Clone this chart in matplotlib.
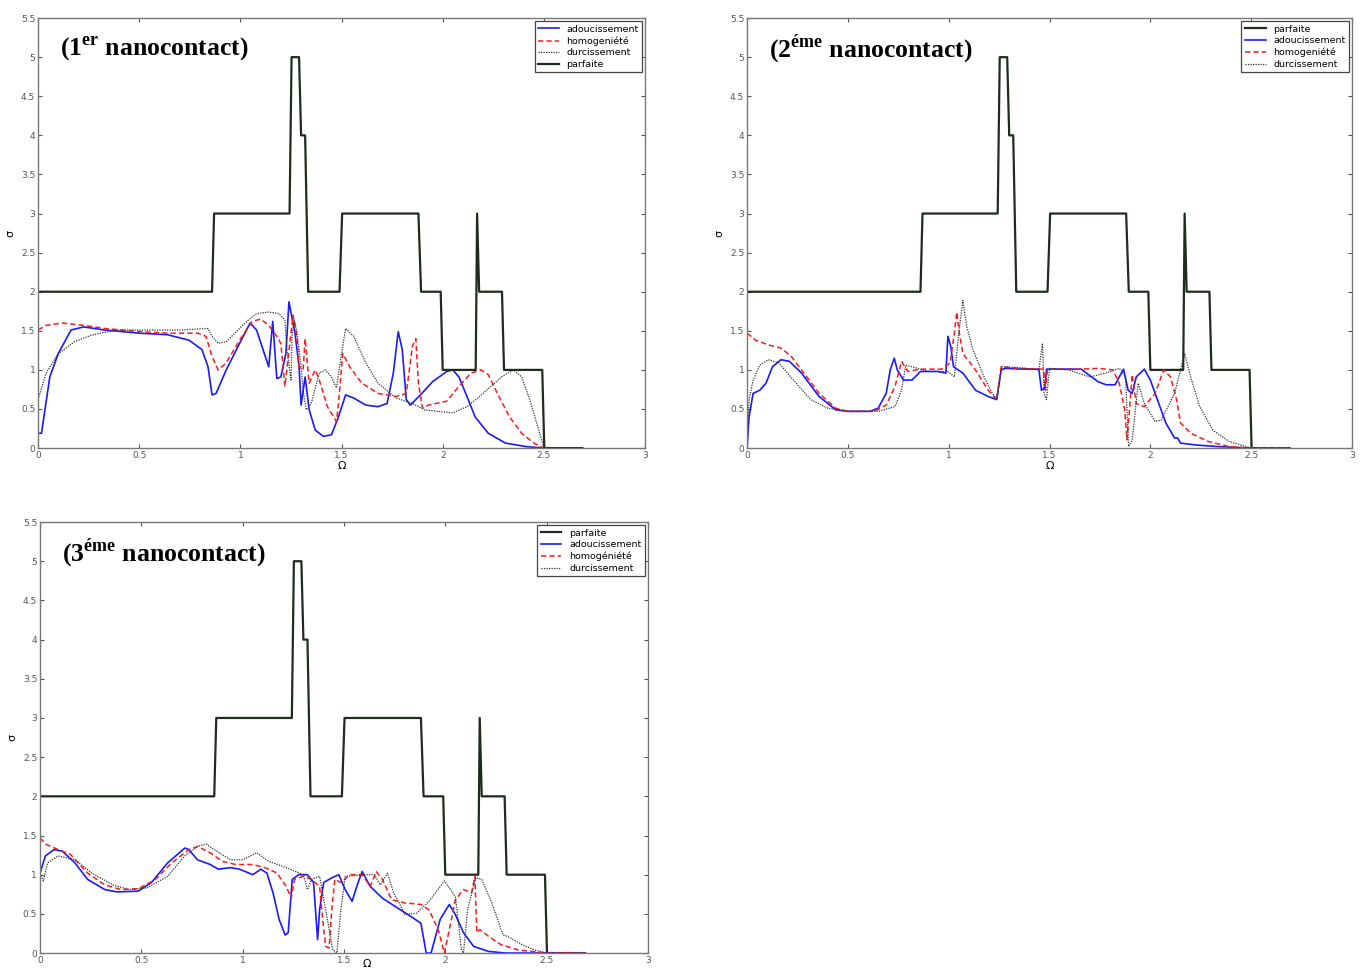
import matplotlib
matplotlib.use('Agg')
import matplotlib.pyplot as plt
from matplotlib.ticker import FormatStrFormatter, MultipleLocator

plt.rcParams['mathtext.fontset'] = 'custom'
plt.rcParams['mathtext.rm'] = 'Liberation Serif:bold'
plt.rcParams['mathtext.bf'] = 'Liberation Serif:bold'

# courbe "parfaite" (identique pour les trois nanocontacts)
parf_x = [0, 0.86, 0.87, 1.243, 1.253, 1.29, 1.30, 1.32, 1.335, 1.49, 1.503, 1.88, 1.893,
          1.99, 2.0, 2.163, 2.17, 2.18, 2.293, 2.303, 2.492, 2.502, 2.69]
parf_y = [2, 2, 3, 3, 5, 5, 4, 4, 2, 2, 3, 3, 2, 2, 1, 1, 3, 2, 2, 1, 1, 0, 0]

# 1er nanocontact
ado1_x = [0, 0.017, 0.058, 0.1, 0.163, 0.225, 0.33, 0.5, 0.64, 0.746, 0.81, 0.84, 0.86, 0.88,
          0.93, 0.996, 1.048, 1.08, 1.14, 1.16, 1.18, 1.20, 1.225, 1.24, 1.27, 1.29, 1.30, 1.32,
          1.34, 1.37, 1.41, 1.45, 1.485, 1.52, 1.56, 1.62, 1.68, 1.725, 1.756, 1.78, 1.80, 1.82,
          1.84, 1.89, 1.95, 2.02, 2.05, 2.08, 2.12, 2.16, 2.225, 2.31, 2.41, 2.5, 2.69]
ado1_y = [0.19, 0.19, 0.91, 1.21, 1.51, 1.55, 1.51, 1.47, 1.45, 1.38, 1.26, 1.04, 0.68, 0.70,
          1.0, 1.34, 1.6, 1.51, 1.04, 1.62, 0.89, 0.91, 1.21, 1.87, 1.47, 1.04, 0.55, 0.91,
          0.49, 0.23, 0.15, 0.17, 0.40, 0.68, 0.64, 0.55, 0.53, 0.57, 0.96, 1.49, 1.26, 0.62,
          0.55, 0.68, 0.85, 0.98, 1.0, 0.91, 0.66, 0.40, 0.19, 0.064, 0.02, 0, 0]
hom1_x = [0, 0.04, 0.12, 0.225, 0.33, 0.5, 0.64, 0.79, 0.83, 0.86, 0.89, 0.93, 0.996, 1.058,
          1.1, 1.14, 1.18, 1.20, 1.22, 1.235, 1.25, 1.26, 1.277, 1.29, 1.31, 1.32, 1.34, 1.37,
          1.39, 1.43, 1.475, 1.485, 1.506, 1.54, 1.6, 1.68, 1.77, 1.82, 1.85, 1.867, 1.88, 1.90,
          1.93, 2.02, 2.08, 2.14, 2.19, 2.225, 2.27, 2.33, 2.39, 2.45, 2.5, 2.69]
hom1_y = [1.51, 1.57, 1.6, 1.57, 1.53, 1.49, 1.47, 1.47, 1.43, 1.17, 1.0, 1.09, 1.38, 1.62,
          1.65, 1.57, 1.43, 1.34, 0.79, 1.13, 1.47, 1.70, 1.47, 1.04, 1.0, 1.40, 0.83, 1.0,
          0.87, 0.53, 0.34, 0.57, 1.21, 1.04, 0.83, 0.70, 0.66, 0.70, 1.30, 1.40, 0.83, 0.51,
          0.55, 0.60, 0.79, 0.96, 1.0, 0.94, 0.70, 0.40, 0.19, 0.064, 0, 0]
dur1_x = [0, 0.04, 0.1, 0.18, 0.27, 0.39, 0.54, 0.70, 0.84, 0.86, 0.89, 0.93, 0.996, 1.04,
          1.08, 1.14, 1.19, 1.22, 1.23, 1.25, 1.256, 1.267, 1.28, 1.30, 1.31, 1.325, 1.35, 1.39,
          1.42, 1.45, 1.475, 1.5, 1.52, 1.56, 1.62, 1.68, 1.77, 1.85, 1.91, 1.975, 2.05, 2.12,
          2.2, 2.29, 2.35, 2.39, 2.43, 2.475, 2.5, 2.69]
dur1_y = [0.62, 0.96, 1.21, 1.36, 1.45, 1.51, 1.51, 1.51, 1.53, 1.43, 1.34, 1.36, 1.53, 1.64,
          1.72, 1.74, 1.72, 1.64, 1.26, 0.87, 1.47, 1.64, 1.47, 1.04, 0.74, 0.49, 0.57, 0.96,
          1.0, 0.91, 0.77, 1.21, 1.53, 1.43, 1.09, 0.83, 0.64, 0.57, 0.49, 0.47, 0.45, 0.53,
          0.70, 0.91, 1.0, 0.91, 0.62, 0.23, 0, 0]

# 2éme nanocontact
ado2_x = [0, 0.01, 0.03, 0.063, 0.094, 0.126, 0.168, 0.21, 0.27, 0.357, 0.44, 0.5, 0.61, 0.65,
          0.69, 0.71, 0.73, 0.745, 0.776, 0.818, 0.86, 0.944, 0.986, 0.996, 1.01, 1.024, 1.07,
          1.133, 1.196, 1.238, 1.26, 1.28, 1.364, 1.447, 1.46, 1.477, 1.485, 1.55, 1.657, 1.74,
          1.78, 1.825, 1.867, 1.89, 1.91, 1.93, 1.97, 2.0, 2.035, 2.077, 2.12, 2.135, 2.15,
          2.224, 2.33, 2.5, 2.69]
ado2_y = [0, 0.40, 0.70, 0.74, 0.83, 1.04, 1.13, 1.11, 0.96, 0.66, 0.49, 0.47, 0.47, 0.51,
          0.70, 1.0, 1.15, 1.0, 0.87, 0.87, 0.98, 0.98, 0.96, 1.43, 1.30, 1.04, 0.96,
          0.74, 0.66, 0.62, 1.0, 1.02, 1.01, 1.01, 0.74, 0.77, 1.01, 1.01, 1.01, 0.85,
          0.81, 0.81, 1.01, 0.74, 0.70, 0.91, 1.01, 0.87, 0.62, 0.32, 0.13, 0.13, 0.064,
          0.04, 0.02, 0, 0]
hom2_x = [0, 0.042, 0.105, 0.168, 0.22, 0.27, 0.357, 0.44, 0.5, 0.63, 0.69, 0.734, 0.766,
          0.797, 0.86, 0.965, 1.007, 1.028, 1.04, 1.053, 1.07, 1.133, 1.196, 1.238, 1.26, 1.343,
          1.47, 1.48, 1.49, 1.657, 1.74, 1.815, 1.846, 1.873, 1.884, 1.89, 1.91, 1.93, 1.97,
          2.024, 2.066, 2.1, 2.13, 2.15, 2.2, 2.287, 2.39, 2.5, 2.69]
hom2_y = [1.47, 1.38, 1.32, 1.28, 1.17, 1.0, 0.70, 0.51, 0.47, 0.47, 0.55, 0.79, 1.11,
          0.98, 1.01, 1.01, 1.09, 1.47, 1.74, 1.47, 1.21, 1.0, 0.74, 0.62, 1.04, 1.02,
          1.01, 0.74, 1.01, 1.01, 1.02, 1.0, 0.83, 0.49, 0.106, 0.28, 0.94, 0.57, 0.53,
          0.70, 1.0, 0.91, 0.62, 0.32, 0.19, 0.085, 0.02, 0, 0]
dur2_x = [0, 0.01, 0.03, 0.063, 0.105, 0.157, 0.23, 0.315, 0.40, 0.5, 0.65, 0.734, 0.766,
          0.787, 0.818, 0.9, 0.996, 1.028, 1.05, 1.07, 1.09, 1.12, 1.175, 1.217, 1.238, 1.263,
          1.343, 1.447, 1.465, 1.473, 1.485, 1.50, 1.594, 1.7, 1.78, 1.846, 1.877, 1.892, 1.91,
          1.94, 1.97, 2.024, 2.055, 2.12, 2.17, 2.2, 2.245, 2.31, 2.39, 2.5, 2.69]
dur2_y = [0, 0.62, 0.87, 1.06, 1.13, 1.09, 0.87, 0.62, 0.51, 0.47, 0.47, 0.53, 0.74,
          1.06, 1.04, 0.98, 0.98, 0.91, 1.47, 1.89, 1.55, 1.26, 0.91, 0.70, 0.62, 1.04,
          1.03, 1.0, 1.34, 0.70, 0.62, 1.02, 1.0, 0.91, 0.96, 1.02, 0.91, 0.02, 0.106,
          0.83, 0.57, 0.34, 0.36, 0.70, 1.21, 0.91, 0.53, 0.23, 0.085, 0, 0]

# 3éme nanocontact
ado3_x = [0, 0.027, 0.069, 0.11, 0.173, 0.235, 0.32, 0.38, 0.485, 0.55, 0.63, 0.715, 0.735,
          0.777, 0.84, 0.88, 0.94, 0.985, 1.05, 1.09, 1.12, 1.15, 1.18, 1.21, 1.225, 1.245,
          1.277, 1.32, 1.35, 1.37, 1.38, 1.40, 1.44, 1.475, 1.506, 1.54, 1.57, 1.59, 1.63, 1.69,
          1.78, 1.84, 1.88, 1.906, 1.93, 1.975, 2.02, 2.05, 2.09, 2.14, 2.215, 2.3, 2.69]
ado3_y = [1.02, 1.24, 1.32, 1.30, 1.15, 0.94, 0.81, 0.78, 0.79, 0.90, 1.15, 1.34, 1.32,
          1.19, 1.13, 1.07, 1.09, 1.07, 1.0, 1.07, 1.02, 0.77, 0.43, 0.23, 0.26, 0.94,
          1.0, 1.0, 0.90, 0.17, 0.55, 0.90, 0.96, 1.0, 0.81, 0.66, 0.90, 1.04, 0.85, 0.70,
          0.55, 0.45, 0.38, 0, 0, 0.43, 0.62, 0.49, 0.26, 0.085, 0.02, 0, 0]
hom3_x = [0, 0.027, 0.09, 0.15, 0.235, 0.32, 0.40, 0.485, 0.57, 0.65, 0.735, 0.777, 0.84,
          0.90, 0.965, 1.05, 1.11, 1.17, 1.215, 1.24, 1.256, 1.30, 1.34, 1.38, 1.40, 1.41,
          1.427, 1.44, 1.455, 1.485, 1.53, 1.59, 1.63, 1.66, 1.69, 1.735, 1.80, 1.88, 1.92,
          1.965, 1.996, 2.02, 2.05, 2.09, 2.13, 2.146, 2.156, 2.17, 2.215, 2.275, 2.36, 2.5, 2.69]
hom3_y = [1.47, 1.39, 1.32, 1.26, 1.02, 0.87, 0.81, 0.82, 0.94, 1.15, 1.32, 1.36, 1.28,
          1.17, 1.13, 1.13, 1.09, 1.02, 0.85, 0.70, 0.94, 0.98, 0.94, 0.85, 0.30, 0.085,
          0.064, 0.55, 0.94, 0.90, 1.0, 1.0, 0.85, 1.04, 0.94, 0.68, 0.64, 0.62, 0.55,
          0.30, 0, 0.30, 0.68, 0.81, 0.77, 0.98, 0.26, 0.30, 0.21, 0.106, 0.04, 0, 0]
dur3_x = [0, 0.017, 0.0375, 0.09, 0.173, 0.256, 0.36, 0.44, 0.527, 0.63, 0.715, 0.777, 0.82,
          0.86, 0.94, 1.0, 1.07, 1.13, 1.215, 1.30, 1.32, 1.34, 1.38, 1.41, 1.445, 1.465,
          1.485, 1.506, 1.61, 1.65, 1.68, 1.715, 1.745, 1.78, 1.80, 1.86, 1.92, 1.996, 2.05,
          2.08, 2.09, 2.11, 2.15, 2.18, 2.23, 2.285, 2.31, 2.38, 2.44, 2.5, 2.69]
dur3_y = [1.02, 0.92, 1.15, 1.24, 1.19, 1.02, 0.87, 0.81, 0.83, 0.98, 1.24, 1.36, 1.39,
          1.32, 1.19, 1.19, 1.28, 1.17, 1.09, 1.0, 0.81, 0.94, 0.98, 0.55, 0.04, 0,
          0.55, 0.98, 1.0, 1.0, 0.87, 1.02, 0.77, 0.60, 0.49, 0.51, 0.66, 0.92, 0.72,
          0.04, 0, 0.55, 0.96, 0.94, 0.64, 0.23, 0.21, 0.106, 0.04, 0, 0]

styles = {
    'parfaite': dict(color='#1e2b1e', lw=1.6, ls='-'),
    'adoucissement': dict(color='#1a1aff', lw=1.2, ls='-'),
    'homog': dict(color='#ff1a1a', lw=1.1, ls=(0, (3.5, 2))),
    'durcissement': dict(color='#333333', lw=0.9, ls=(0, (1, 1))),
}


def panel(rect, curves, num, sup):
    ax = fig.add_axes(rect)
    for key, label, x, y in curves:
        ax.plot(x, y, label=label, **styles[key])
    ax.set_xlim(0, 3)
    ax.set_ylim(0, 5.5)
    ax.xaxis.set_major_locator(MultipleLocator(0.5))
    ax.yaxis.set_major_locator(MultipleLocator(0.5))
    ax.xaxis.set_major_formatter(FormatStrFormatter('%g'))
    ax.yaxis.set_major_formatter(FormatStrFormatter('%g'))
    ax.tick_params(direction='in', length=3, width=0.8, labelsize=6.5, colors='#555555',
                   top=True, right=True, pad=2)
    for s in ax.spines.values():
        s.set_color('#777777')
        s.set_linewidth(1.0)
    ax.set_ylabel('σ', fontsize=8, labelpad=4)
    ax.set_xlabel('Ω', fontsize=8, labelpad=1)
    leg = ax.legend(loc='upper right', fontsize=6.8, handlelength=2.2, borderaxespad=0.35,
                    labelspacing=0.28, fancybox=False, framealpha=1, borderpad=0.35,
                    handletextpad=0.8)
    leg.get_frame().set_edgecolor('#444444')
    leg.get_frame().set_linewidth(0.9)
    ax.text(0.036, 0.93, '(%s$^{\\mathbf{%s}}$ nanocontact)' % (num, sup), transform=ax.transAxes,
            fontsize=18.5, fontfamily='Liberation Serif', fontweight='bold', va='center', ha='left')
    return ax


fig = plt.figure(figsize=(13.64, 9.72), dpi=100)

panel([0.0279, 0.539, 0.445, 0.4424], [
    ('adoucissement', 'adoucissement', ado1_x, ado1_y),
    ('homog', 'homogeniété', hom1_x, hom1_y),
    ('durcissement', 'durcissement', dur1_x, dur1_y),
    ('parfaite', 'parfaite', parf_x, parf_y),
], '1', 'er')

panel([0.5477, 0.539, 0.4435, 0.4424], [
    ('parfaite', 'parfaite', parf_x, parf_y),
    ('adoucissement', 'adoucissement', ado2_x, ado2_y),
    ('homog', 'homogeniété', hom2_x, hom2_y),
    ('durcissement', 'durcissement', dur2_x, dur2_y),
], '2', 'éme')

ax3 = panel([0.0293, 0.0195, 0.4457, 0.4434], [
    ('parfaite', 'parfaite', parf_x, parf_y),
    ('adoucissement', 'adoucissement', ado3_x, ado3_y),
    ('homog', 'homogéniété', hom3_x, hom3_y),
    ('durcissement', 'durcissement', dur3_x, dur3_y),
], '3', 'éme')
# le Ω du 3éme graphe est décalé à droite (place limitée en bas)
ax3.xaxis.set_label_coords(0.537, -0.014)

fig.savefig('out.png', dpi=100)
